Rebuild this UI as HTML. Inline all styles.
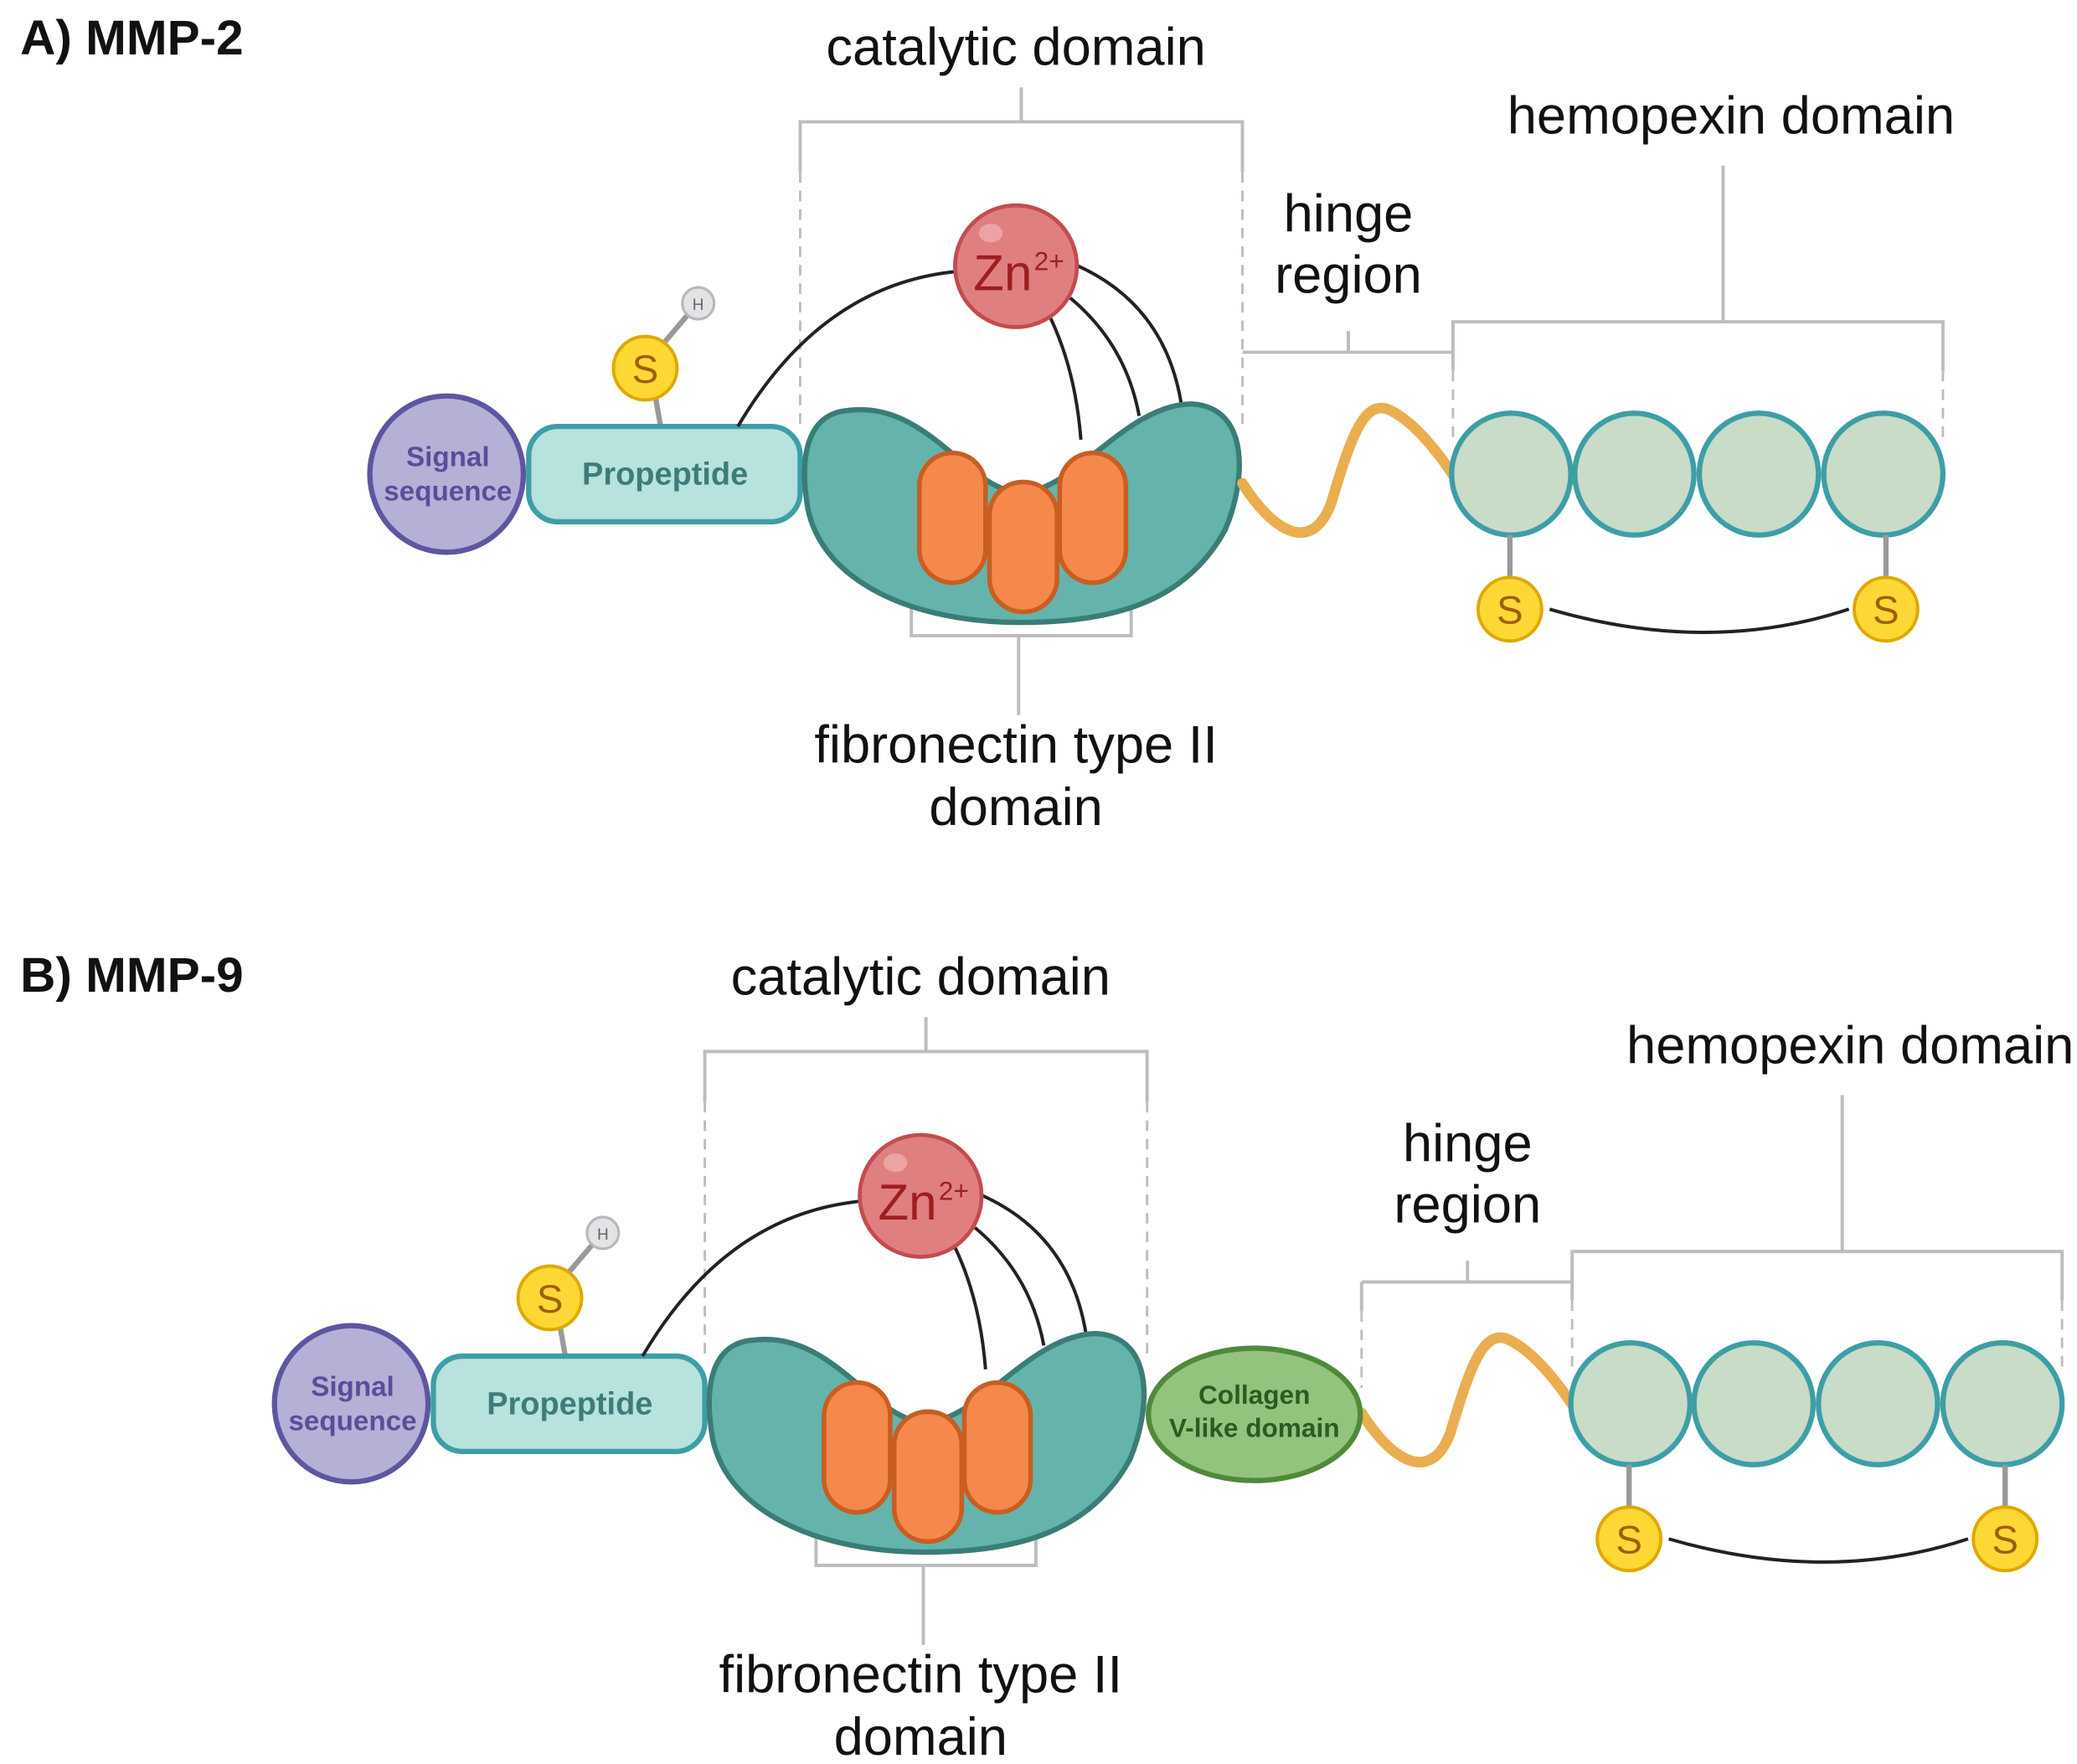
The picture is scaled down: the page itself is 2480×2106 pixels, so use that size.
<!DOCTYPE html>
<html><head><meta charset="utf-8"><style>
html,body{margin:0;padding:0;background:#fff;}
svg{display:block;}
text{font-family:"Liberation Sans",sans-serif;}
</style></head><body>
<svg width="2480" height="2106" viewBox="0 0 1568 1332" xmlns="http://www.w3.org/2000/svg">
<defs>
<g id="left">
  <g stroke="#bdbdbd" stroke-width="2.5" fill="none">
    <path d="M604,130 V92 H938 V130"/>
    <path d="M771,66 V92"/>
    <path d="M604,130 V320 M938,130 V320" stroke-dasharray="8,6" stroke-width="1.8"/>
    <path d="M688,440 V480 H854 V440"/>
    <path d="M769,480 V540"/>
  </g>
  <text x="767" y="49" font-size="40" text-anchor="middle" fill="#111">catalytic domain</text>
  <text x="767" y="576" font-size="40" text-anchor="middle" fill="#111">fibronectin type II</text>
  <text x="767" y="623" font-size="40" text-anchor="middle" fill="#111">domain</text>
  <ellipse cx="337" cy="358" rx="58" ry="59" fill="#b5b0d6" stroke="#5d56a0" stroke-width="4"/>
  <text x="338" y="352" font-size="21" font-weight="bold" text-anchor="middle" fill="#5a4e9a">Signal</text>
  <text x="338" y="378" font-size="21" font-weight="bold" text-anchor="middle" fill="#5a4e9a">sequence</text>
  <line x1="493" y1="290" x2="499" y2="324" stroke="#999" stroke-width="4"/>
  <line x1="490" y1="272" x2="524" y2="232" stroke="#999" stroke-width="4"/>
  <circle cx="527" cy="229" r="12" fill="#e3e3e6" stroke="#b8b8bc" stroke-width="2"/>
  <text x="527" y="234" font-size="12" text-anchor="middle" fill="#666">H</text>
  <circle cx="487" cy="278" r="24" fill="#fdd835" stroke="#e0a800" stroke-width="2.5"/>
  <text x="487" y="289" font-size="30" text-anchor="middle" fill="#a0600a">S</text>
  <rect x="399" y="322" width="205" height="72" rx="22" fill="#b7e2dd" stroke="#3e9ea6" stroke-width="4"/>
  <text x="502" y="366" font-size="24" font-weight="bold" text-anchor="middle" fill="#3d7c7a">Propeptide</text>
  <g stroke="#222" stroke-width="2.5" fill="none">
    <path d="M557,322 Q620,215 722,205"/>
    <path d="M793,240 Q812,280 816,332"/>
    <path d="M808,225 Q850,260 860,314"/>
    <path d="M812,200 Q880,230 892,306"/>
  </g>
  <path d="M640,310 C700,302 730,370 770,372 C810,372 850,305 900,305 C945,308 940,365 925,400 C895,455 840,470 770,470 C690,470 622,440 610,385 C602,340 612,312 640,310 Z" fill="#64b4ac" stroke="#3a7d77" stroke-width="4"/>
  <g fill="#f4894b" stroke="#c85e22" stroke-width="3.5">
    <rect x="694" y="342" width="50" height="98" rx="25"/>
    <rect x="800" y="342" width="50" height="98" rx="25"/>
    <rect x="747" y="364" width="51" height="98" rx="25"/>
  </g>
  <circle cx="767" cy="201" r="46" fill="#e07f80" stroke="#c44b4e" stroke-width="3"/>
  <ellipse cx="748" cy="176" rx="9" ry="7" fill="#eca3a3"/>
  <text x="757" y="219" font-size="38" text-anchor="middle" fill="#9e1e20">Zn</text>
  <text x="792" y="204" font-size="20" text-anchor="middle" fill="#9e1e20">2+</text>
</g>
<g id="right">
  <g stroke="#bdbdbd" stroke-width="2.5" fill="none">
    <path d="M938,266 H1097 M1018,250 V266"/>
    <path d="M1097,280 V243 H1467 V280"/>
    <path d="M1301,125 V243"/>
    <path d="M1097,280 V330 M1467,280 V330" stroke-dasharray="8,6" stroke-width="1.8"/>
  </g>
  <text x="1018" y="175" font-size="40" text-anchor="middle" fill="#111">hinge</text>
  <text x="1018" y="221" font-size="40" text-anchor="middle" fill="#111">region</text>
  <text x="1307" y="101" font-size="40" text-anchor="middle" fill="#111">hemopexin domain</text>
  <path d="M938,365 C960,400 990,420 1005,380 C1020,330 1030,300 1050,310 C1070,320 1088,345 1098,360" stroke="#eaae50" stroke-width="8" fill="none" stroke-linecap="round"/>
  <g fill="#c8dcc8" stroke="#3e9ea6" stroke-width="4">
    <ellipse cx="1141" cy="358" rx="45" ry="46"/>
    <ellipse cx="1234" cy="358" rx="45" ry="46"/>
    <ellipse cx="1328" cy="358" rx="45" ry="46"/>
    <ellipse cx="1422" cy="358" rx="45" ry="46"/>
  </g>
  <g stroke="#999" stroke-width="4"><line x1="1140" y1="404" x2="1140" y2="438"/><line x1="1424" y1="404" x2="1424" y2="438"/></g>
  <path d="M1170,460 Q1290,495 1396,460" stroke="#222" stroke-width="2.5" fill="none"/>
  <circle cx="1140" cy="460" r="24" fill="#fdd835" stroke="#e0a800" stroke-width="2.5"/>
  <circle cx="1424" cy="460" r="24" fill="#fdd835" stroke="#e0a800" stroke-width="2.5"/>
  <text x="1140" y="471" font-size="30" text-anchor="middle" fill="#a0600a">S</text>
  <text x="1424" y="471" font-size="30" text-anchor="middle" fill="#a0600a">S</text>
</g>
</defs>
<text x="15" y="41" font-size="37" font-weight="bold" fill="#111">A) MMP-2</text>
<use href="#left"/>
<use href="#right"/>
<text x="15" y="749" font-size="37" font-weight="bold" fill="#111">B) MMP-9</text>
<use href="#left" transform="translate(-72,702)"/>
<use href="#right" transform="translate(90,702)"/>
<path d="M1028,968 V990" stroke="#bdbdbd" stroke-width="2.5" fill="none"/>
<path d="M1028,990 V1048" stroke="#bdbdbd" stroke-width="1.8" stroke-dasharray="8,6" fill="none"/>
<ellipse cx="947" cy="1068" rx="80" ry="50" fill="#93c47d" stroke="#4f8a3a" stroke-width="4"/>
<text x="947" y="1060" font-size="20" font-weight="bold" text-anchor="middle" fill="#2e5a23">Collagen</text>
<text x="947" y="1085" font-size="20" font-weight="bold" text-anchor="middle" fill="#2e5a23">V-like domain</text>
</svg>
</body></html>
